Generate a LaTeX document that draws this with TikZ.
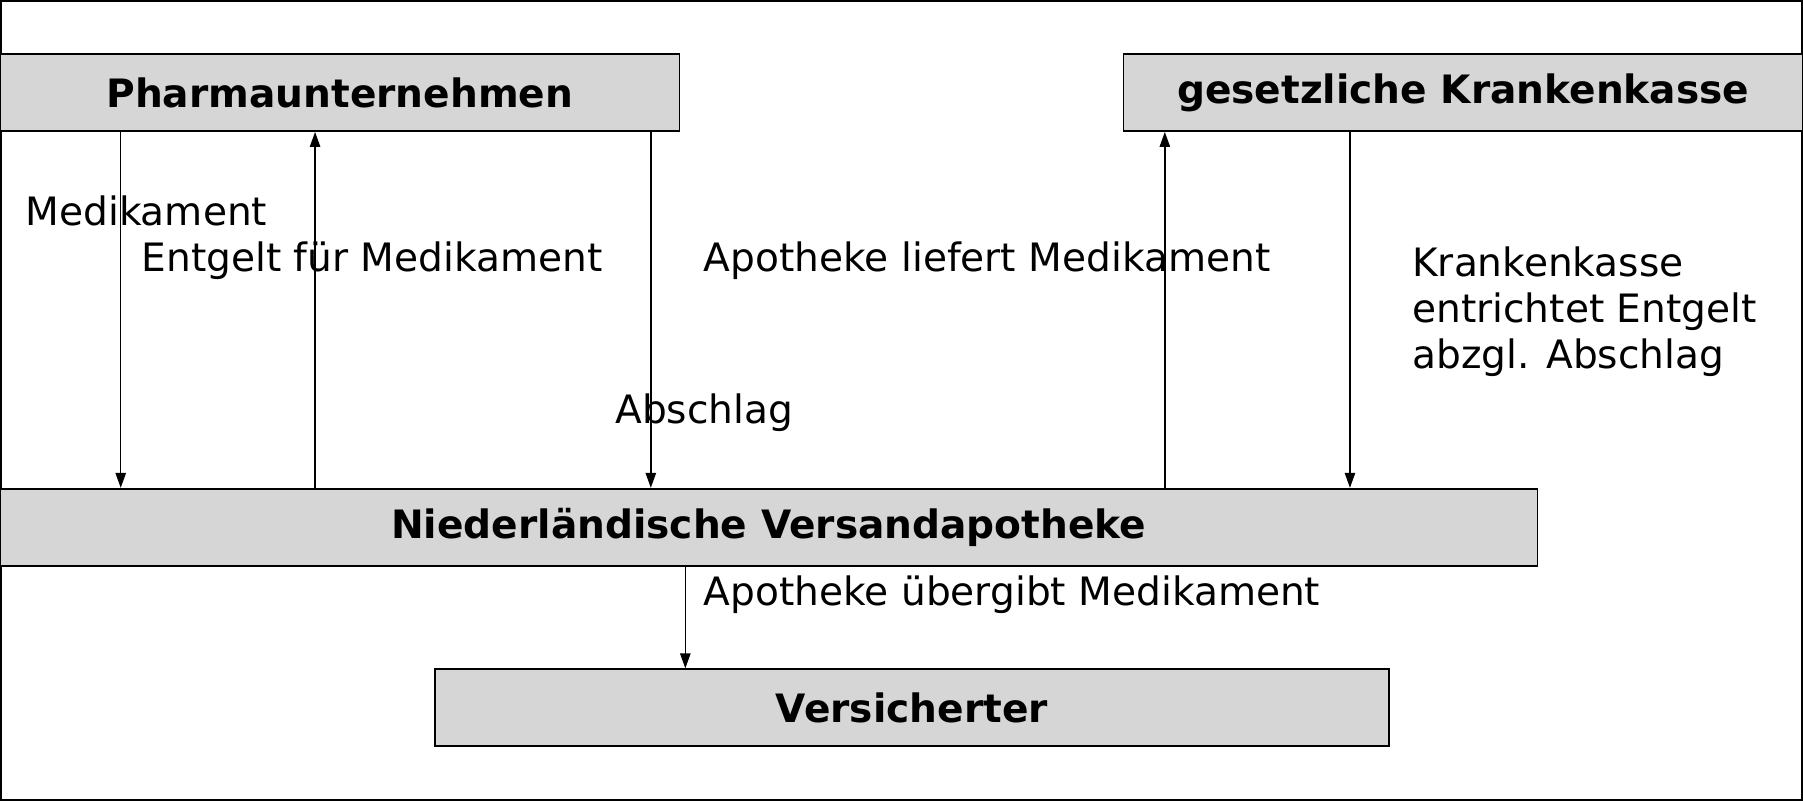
\documentclass[tikz,border=0pt]{standalone}
\usepackage{fontspec}
\setmainfont{DejaVu Sans}
\usetikzlibrary{arrows.meta}
\begin{document}
\begin{tikzpicture}[x=1pt,y=-1pt,
  box/.style={draw,line width=1.5pt,fill=black!16,font=\fontsize{34}{40}\selectfont\bfseries,inner sep=0pt},
  lbl/.style={anchor=west,font=\fontsize{34}{40}\selectfont,inner sep=0pt},
  arr/.style={line width=1.3pt,-{Triangle[width=9pt,length=13pt]}}]
\useasboundingbox (0,0) rectangle (1568,697);
\draw[line width=2pt] (1,1) rectangle (1567,696);
\node[box,minimum width=591pt,minimum height=67pt] (pu) at (295.5,80.5) {Pharmaunternehmen};
\node[box,minimum width=591pt,minimum height=67pt] (gk) at (1272.5,80.5) {gesetzliche Krankenkasse};
\node[box,minimum width=1337pt,minimum height=67pt] (nv) at (668.5,458.5) {Niederländische Versandapotheke};
\node[box,minimum width=830pt,minimum height=67pt] (vs) at (793,615.5) {Versicherter};
\draw[arr] (pu.south -| 105,0) -- (nv.north -| 105,0);
\draw[arr] (nv.north -| 274,0) -- (pu.south -| 274,0);
\draw[arr] (pu.south -| 566,0) -- (nv.north -| 566,0);
\draw[arr] (nv.north -| 1013,0) -- (gk.south -| 1013,0);
\draw[arr] (gk.south -| 1174,0) -- (nv.north -| 1174,0);
\draw[arr] (nv.south -| 596,0) -- (vs.north -| 596,0);
\node[lbl] (l1) at (22,183) {Medikament};
\node[lbl] (l2) at (123,227) {Entgelt für Medikament};
\node[lbl] (l3) at (612,227) {Apotheke liefert Medikament};
\node[lbl] (l4) at (535,359) {Abschlag};
\node[lbl,align=left] (l5) at (1228,271) {Krankenkasse\\entrichtet Entgelt\\abzgl. Abschlag};
\node[lbl] (l6) at (612,517) {Apotheke übergibt Medikament};
\end{tikzpicture}
\end{document}
